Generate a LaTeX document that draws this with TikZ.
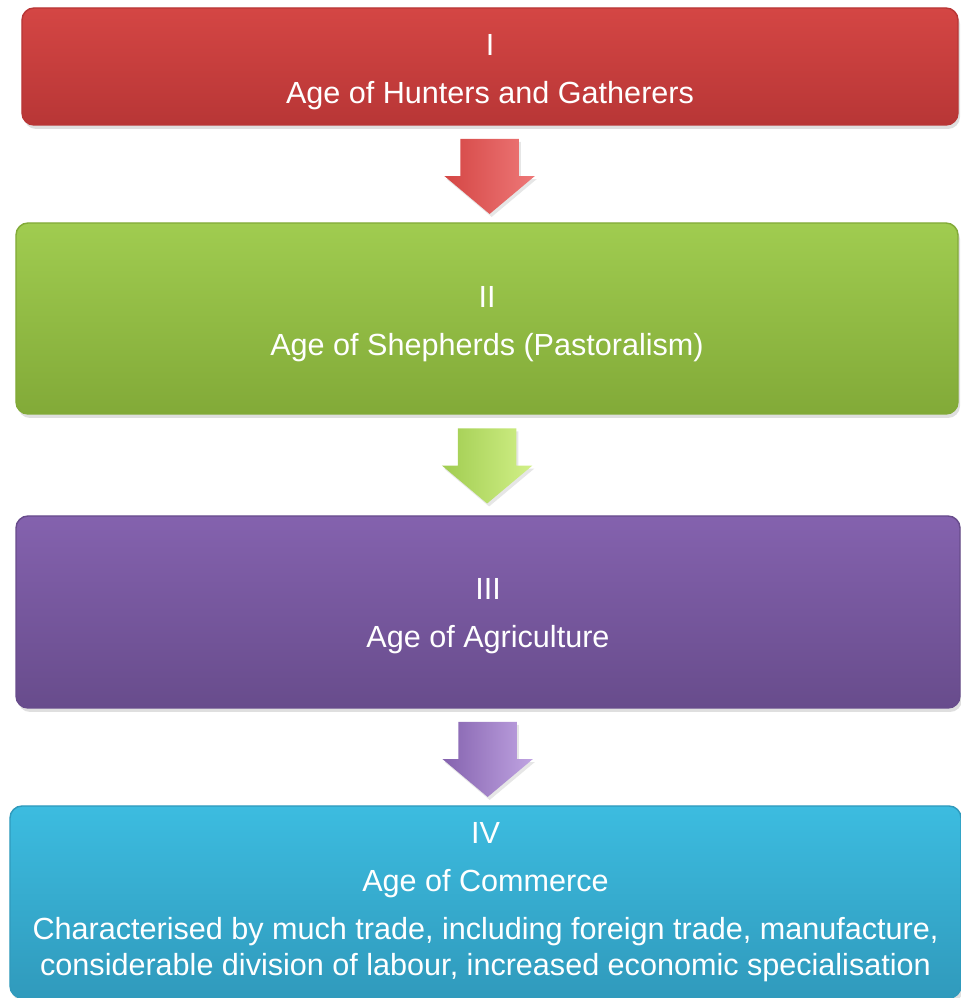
\documentclass[tikz,border=0pt]{standalone}
\usepackage{fontspec}
\setmainfont{Liberation Sans}
\usetikzlibrary{shapes.arrows,shadows}

\definecolor{huntred}{RGB}{212,70,68}
\definecolor{huntdark}{RGB}{184,54,54}
\definecolor{huntlight}{RGB}{238,120,120}
\definecolor{shepgreen}{RGB}{160,204,80}
\definecolor{shepdark}{RGB}{130,170,56}
\definecolor{sheplight}{RGB}{210,240,136}
\definecolor{agripurple}{RGB}{132,98,174}
\definecolor{agridark}{RGB}{104,76,140}
\definecolor{agrilight}{RGB}{192,164,226}
\definecolor{commcyan}{RGB}{60,188,224}
\definecolor{commdark}{RGB}{48,154,188}

\begin{document}
\begin{tikzpicture}[
	age/.style={rounded corners=0.12cm, text=white, align=center, inner sep=0pt,
		font=\fontsize{8.7pt}{10pt}\selectfont,
		drop shadow={opacity=0.25, shadow xshift=0.02cm, shadow yshift=-0.04cm}},
	down/.style={single arrow, rotate=-90, anchor=tail, pos=0.13, minimum height=0.75cm, inner xsep=0pt, inner ysep=0.285cm,
		single arrow head extend=0.16cm, single arrow tip angle=100,
		drop shadow={opacity=0.2, shadow xshift=0.02cm, shadow yshift=-0.03cm}}
]
	%\draw[help lines, thick] (0,0) grid (9.61,9.98);
	\useasboundingbox (0,0) rectangle (9.61,9.98);
	\node[age, minimum width=9.36cm, minimum height=1.17cm, top color=huntred, bottom color=huntdark, draw=huntdark] (hunt) at (4.90,9.315) {\rule{0pt}{0.32cm}I\\[0.13cm]Age of Hunters and Gatherers};
	\node[age, minimum width=9.42cm, minimum height=1.91cm, top color=shepgreen, bottom color=shepdark, draw=shepdark] (shep) at (4.87,6.795) {\rule{0pt}{0.32cm}II\\[0.13cm]Age of Shepherds (Pastoralism)};
	\node[age, minimum width=9.44cm, minimum height=1.92cm, top color=agripurple, bottom color=agridark, draw=agridark] (agri) at (4.88,3.86) {\rule{0pt}{0.29cm}III\\[0.13cm]Age of Agriculture};
	\node[age, minimum width=9.51cm, minimum height=1.92cm, top color=commcyan, bottom color=commdark, draw=commdark] (comm) at (4.855,0.96) {IV\\[0.13cm]Age of Commerce\\[0.13cm]Characterised by much trade, including foreign trade, manufacture,\\considerable division of labour, increased economic specialisation};
	\path (hunt.south) -- node[down, left color=huntred, middle color=huntred, right color=huntlight] (a1) {} (shep.north);
	\path (shep.south) -- node[down, left color=shepgreen, middle color=shepgreen, right color=sheplight] (a2) {} (agri.north);
	\path (agri.south) -- node[down, left color=agripurple, middle color=agripurple, right color=agrilight] (a3) {} (comm.north);
\end{tikzpicture}
\end{document}
